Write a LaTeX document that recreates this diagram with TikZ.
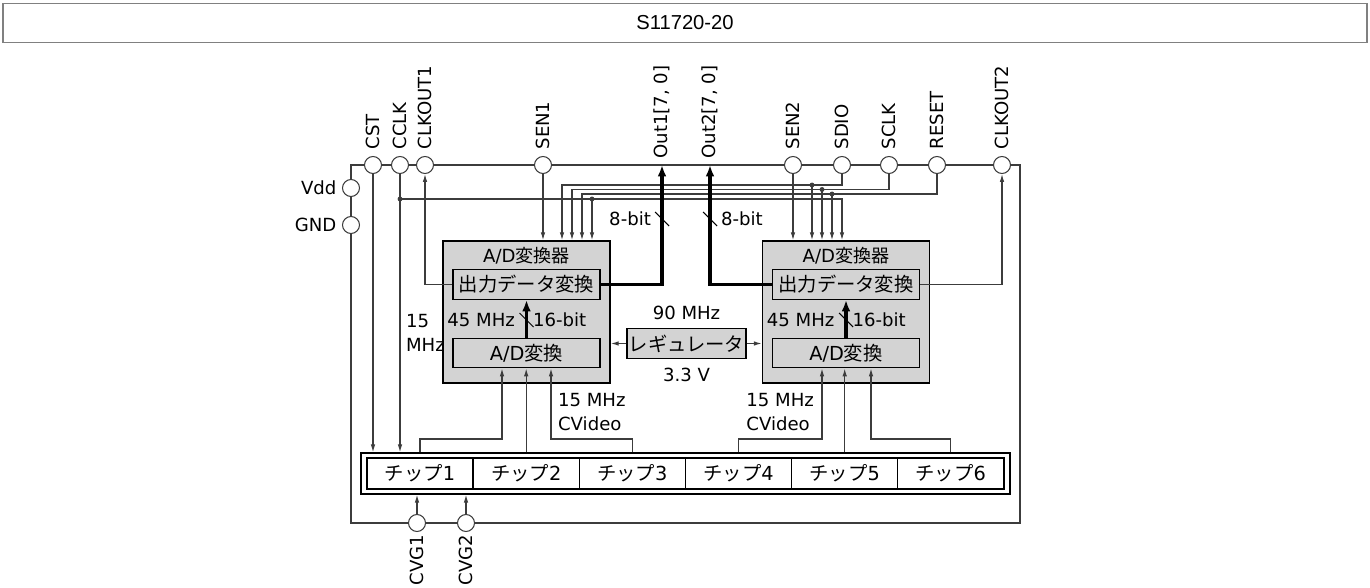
\documentclass[tikz,border=0pt]{standalone}
\usepackage{fontspec}
\setmainfont{DejaVu Sans}
\newfontfamily\jp{Noto Sans CJK JP}
\newfontfamily\headfont{Liberation Sans}
\usepackage{xcolor}
\usepackage{tikz}
\usetikzlibrary{positioning, arrows.meta, calc}
\definecolor{boxgray}{RGB}{211,211,211}
\definecolor{linegray}{RGB}{60,60,60}

\begin{document}
\begin{tikzpicture}[
				x=0.02cm, y=-0.02cm,
				every node/.style={font=\fontsize{10.3}{13.6}\selectfont},
				jptext/.style={font=\jp\fontsize{11}{13.6}\selectfont},
				pad/.style={draw=linegray, circle, fill=white, minimum size=0.34cm, inner sep=0pt, line width=0.6pt},
				pinlabel/.style={rotate=90, inner sep=3.5pt},
				adc/.style={draw, fill=boxgray, line width=0.9pt, minimum width=3.34cm, minimum height=2.84cm},
				block/.style={draw, fill=boxgray, line width=0.8pt, minimum width=2.94cm, minimum height=0.59cm, inner sep=0pt, jptext},
				chip/.style={draw, line width=0.8pt, minimum width=2.1234cm, minimum height=0.62cm, inner sep=0pt, jptext},
				wire/.style={draw=linegray, line width=0.65pt},
				sig/.style={wire, -{Latex[length=4.5pt,width=2.6pt]}},
				bus/.style={-{Latex[length=6.5pt,width=5pt]}, line width=2.2pt},
				slash/.style={line width=0.6pt}
				]
				
				\useasboundingbox (0,0) rectangle (1370,588);
				
				% Cabecera
				\node[draw=gray, line width=1pt, minimum width=27.28cm, minimum height=0.78cm, inner sep=0pt,
				font=\headfont\fontsize{11.5}{14}\selectfont] (header) at (685,23) {S11720-20};
				
				% Contorno
				\coordinate (pkgtl) at (351,165);
				\coordinate (pkgbr) at (1020,523);
				\draw[wire] (pkgtl) rectangle (pkgbr);
				
				% Pines
				\node[pad] (cst)     at (373,165)  {};
				\node[pad] (cclk)    at (400,165)  {};
				\node[pad] (clkout1) at (425,165)  {};
				\node[pad] (sen1)    at (543,165)  {};
				\coordinate (out1pin) at (662,165);
				\coordinate (out2pin) at (710,165);
				\node[pad] (sen2)    at (793,165)  {};
				\node[pad] (sdio)    at (842,165)  {};
				\node[pad] (sclk)    at (889,165)  {};
				\node[pad] (reset)   at (937,165)  {};
				\node[pad] (clkout2) at (1002,165) {};
				\node[pad] (vdd)     at (351,188)  {};
				\node[pad] (gnd)     at (351,225)  {};
				\node[pad] (cvg1)    at (417,523)  {};
				\node[pad] (cvg2)    at (466,523)  {};
				
				\node[pinlabel, anchor=west] (cstlbl)     at (cst.north)     {CST};
				\node[pinlabel, anchor=west] (cclklbl)    at (cclk.north)    {CCLK};
				\node[pinlabel, anchor=west] (clkout1lbl) at (clkout1.north) {CLKOUT1};
				\node[pinlabel, anchor=west] (sen1lbl)    at (sen1.north)    {SEN1};
				\node[pinlabel, anchor=west] (out1lbl)    at (out1pin)       {Out1[7, 0]};
				\node[pinlabel, anchor=west] (out2lbl)    at (out2pin)       {Out2[7, 0]};
				\node[pinlabel, anchor=west] (sen2lbl)    at (sen2.north)    {SEN2};
				\node[pinlabel, anchor=west] (sdiolbl)    at (sdio.north)    {SDIO};
				\node[pinlabel, anchor=west] (sclklbl)    at (sclk.north)    {SCLK};
				\node[pinlabel, anchor=west] (resetlbl)   at (reset.north)   {RESET};
				\node[pinlabel, anchor=west] (clkout2lbl) at (clkout2.north) {CLKOUT2};
				\node[anchor=east, inner sep=3pt] (vddlbl) at (vdd.west) {Vdd};
				\node[anchor=east, inner sep=3pt] (gndlbl) at (gnd.west) {GND};
				\node[pinlabel, anchor=east, inner sep=1.5pt] (cvg1lbl) at (cvg1.south) {CVG1};
				\node[pinlabel, anchor=east, inner sep=1.5pt] (cvg2lbl) at (cvg2.south) {CVG2};
				
				% Convertidores
				\node[adc] (adc1) at (526.5,312) {};
				\node (adc1title) at (526.5,256) {A/D{\jp 変換器}};
				\node[block] (outconv1) at (526.5,284.5) {出力データ変換};
				\node[block] (adconv1)  at (526.5,353)   {\normalfont A/D{\jp 変換}};
				
				\node[adc] (adc2) at (846,312) {};
				\node (adc2title) at (846,256) {A/D{\jp 変換器}};
				\node[block] (outconv2) at (846,284.5) {出力データ変換};
				\node[block] (adconv2)  at (846,353)   {\normalfont A/D{\jp 変換}};
				
				% Regulador
				\node[block, minimum width=2.38cm] (reg) at (686.5,343.5) {レギュレータ};
				\node (regfreq) at (686.5,313) {90 MHz};
				\node (regvolt) at (686.5,375) {3.3 V};
				
				% Chips
				\node[draw, line width=0.8pt, minimum width=12.98cm, minimum height=0.82cm] (chiprow) at (685.5,473.5) {};
				\node[chip] (chip1) at (420,473.5)   {チップ{\normalfont 1}};
				\node[chip] (chip2) at (526.2,473.5) {チップ{\normalfont 2}};
				\node[chip] (chip3) at (632.3,473.5) {チップ{\normalfont 3}};
				\node[chip] (chip4) at (738.5,473.5) {チップ{\normalfont 4}};
				\node[chip] (chip5) at (844.7,473.5) {チップ{\normalfont 5}};
				\node[chip] (chip6) at (950.8,473.5) {チップ{\normalfont 6}};
				
				% Reloj y control
				\draw[sig] (cst.south) -- (cst |- chiprow.north);
				\draw[sig] (cclk.south) -- (cclk |- chiprow.north);
				\draw[sig] (outconv1.west) -| (clkout1.south);
				\draw[sig] (outconv2.east) -| (clkout2.south);
				\draw[sig] (sen1.south) -- (sen1 |- adc1.north);
				\draw[sig] (sen2.south) -- (sen2 |- adc2.north);
				
				\coordinate (sdioL) at (562,185);
				\coordinate (sdioR) at (812,185);
				\coordinate (sclkL) at (572,189.5);
				\coordinate (sclkR) at (822,189.5);
				\coordinate (rstL)  at (582,194);
				\coordinate (rstR)  at (832,194);
				\coordinate (cclkL) at (592,199);
				\coordinate (cclkR) at (842,199);
				
				\draw[sig] (sdio.south) |- (sdioL) -- (sdioL |- adc1.north);
				\draw[sig] (sdioR) -- (sdioR |- adc2.north);
				\draw[sig] (sclk.south) |- (sclkL) -- (sclkL |- adc1.north);
				\draw[sig] (sclkR) -- (sclkR |- adc2.north);
				\draw[sig] (reset.south) |- (rstL) -- (rstL |- adc1.north);
				\draw[sig] (rstR) -- (rstR |- adc2.north);
				\draw[sig] (cclk |- cclkL) -- (cclkR) -- (cclkR |- adc2.north);
				\draw[sig] (cclkL) -- (cclkL |- adc1.north);
				
				\fill[linegray] (sdioR) circle[radius=1.4pt];
				\fill[linegray] (sclkR) circle[radius=1.4pt];
				\fill[linegray] (rstR) circle[radius=1.4pt];
				\fill[linegray] (cclkL) circle[radius=1.4pt];
				\fill[linegray] (cclk |- cclkL) circle[radius=1.4pt];
				
				% Salidas
				\draw[bus] (outconv1.east) -| (out1pin);
				\draw[bus] (outconv2.west) -| (out2pin);
				\coordinate (cut1) at (662,219);
				\coordinate (cut2) at (710,219);
				\draw[slash] ([shift={(-7,-7)}]cut1) -- ([shift={(7,7)}]cut1);
				\draw[slash] ([shift={(-7,-7)}]cut2) -- ([shift={(7,7)}]cut2);
				\node[anchor=east, inner sep=1pt] (bits1) at (653,219) {8-bit};
				\node[anchor=west, inner sep=1pt] (bits2) at (719,219) {8-bit};
				
				% Interno
				\draw[bus, line width=1.8pt] (adconv1.north) -- (outconv1.south);
				\draw[bus, line width=1.8pt] (adconv2.north) -- (outconv2.south);
				\coordinate (cut3) at (526.5,320);
				\coordinate (cut4) at (846,320);
				\draw[slash] ([shift={(-7,-7)}]cut3) -- ([shift={(7,7)}]cut3);
				\draw[slash] ([shift={(-7,-7)}]cut4) -- ([shift={(7,7)}]cut4);
				\node[anchor=east, inner sep=1pt] (clk1) at (517,320) {45 MHz};
				\node[anchor=west, inner sep=1pt] (wid1) at (531,320) {16-bit};
				\node[anchor=east, inner sep=1pt] (clk2) at (836.5,320) {45 MHz};
				\node[anchor=west, inner sep=1pt] (wid2) at (850.5,320) {16-bit};
				
				\draw[sig] (reg.west) -- (reg.west -| adc1.east);
				\draw[sig] (reg.east) -- (reg.east -| adc2.west);
				
				% Hacia los chips
				\coordinate (a1in1) at (502,439);
				\coordinate (a1in3) at (551,439);
				\coordinate (a2in1) at (822,439);
				\coordinate (a2in3) at (871,439);
				\draw[sig] (chip1 |- chiprow.north) |- (a1in1) -- (a1in1 |- adconv1.south);
				\draw[sig] (chip2 |- chiprow.north) -- (chip2 |- adconv1.south);
				\draw[sig] (chip3 |- chiprow.north) |- (a1in3) -- (a1in3 |- adconv1.south);
				\draw[sig] (chip4 |- chiprow.north) |- (a2in1) -- (a2in1 |- adconv2.south);
				\draw[sig] (chip5 |- chiprow.north) -- (chip5 |- adconv2.south);
				\draw[sig] (chip6 |- chiprow.north) |- (a2in3) -- (a2in3 |- adconv2.south);
				
				\node[anchor=west, align=left, inner sep=1pt] (cvid1) at (556,412) {15 MHz\\CVideo};
				\node[anchor=east, align=left, inner sep=1pt] (cvid2) at (816,412) {15 MHz\\CVideo};
				\node[anchor=west, align=left, inner sep=1pt] (cclkfreq) at (404,333) {15\\MHz};
				
				\draw[sig] (cvg1.north) -- (cvg1 |- chiprow.south);
				\draw[sig] (cvg2.north) -- (cvg2 |- chiprow.south);
				
			\end{tikzpicture}
\end{document}
